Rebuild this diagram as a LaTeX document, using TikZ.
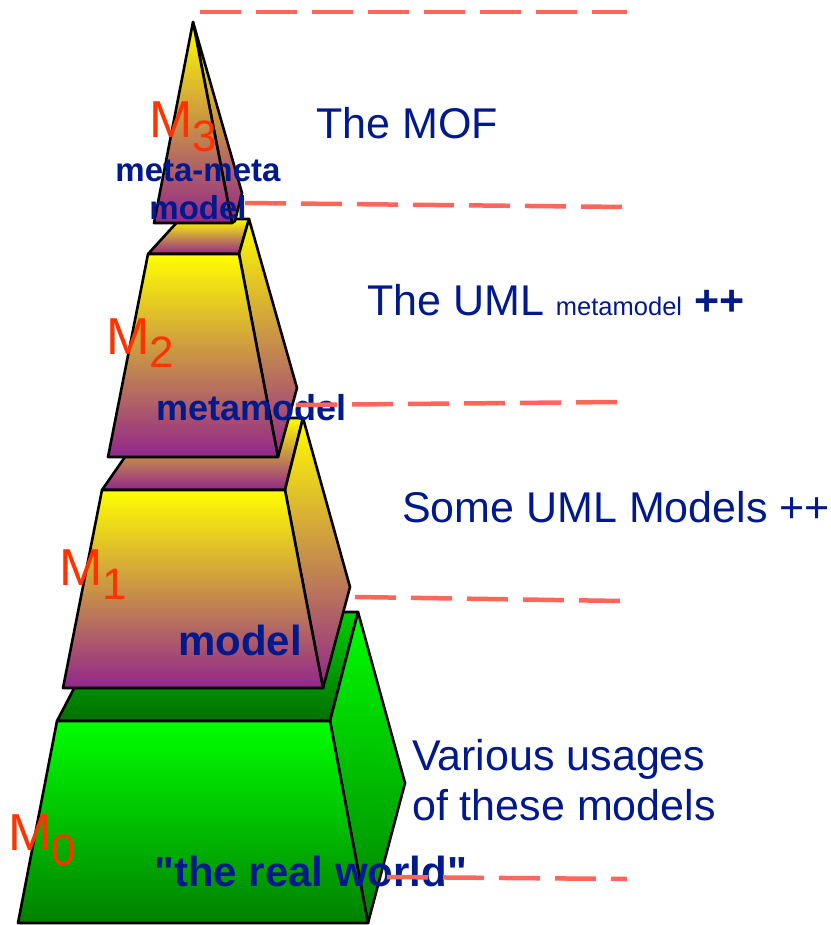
\documentclass[tikz,border=0pt]{standalone}
\usepackage{fontspec}
\setmainfont[Ligatures=TeXOff]{Liberation Sans}
\definecolor{myellow}{RGB}{255,255,0}
\definecolor{mpurple}{RGB}{146,38,140}
\definecolor{mgreen}{RGB}{0,255,0}
\definecolor{mgreenmid}{RGB}{0,228,0}
\definecolor{mdkgreen}{RGB}{0,128,0}
\definecolor{topgreen}{RGB}{0,205,0}
\definecolor{topdkgreen}{RGB}{0,112,0}
\definecolor{dashred}{RGB}{255,102,90}
\definecolor{txtblue}{RGB}{0,25,140}
\definecolor{lvlred}{RGB}{255,51,0}
\newcommand\lvlfont{\fontsize{52}{52}\selectfont}
\newcommand\subfont{\fontsize{44}{44}\selectfont}
\begin{document}
\begin{tikzpicture}[x=1pt,y=-1pt,
  face/.style={draw=black,line width=2.6pt,line join=round},
  warm/.style={face,top color=myellow,bottom color=mpurple},
  grass/.style={face,top color=mgreen,middle color=mgreenmid,bottom color=mdkgreen},
  grasstop/.style={face,top color=topgreen,bottom color=topdkgreen},
  lvl/.style={inner sep=0pt,anchor=base west,text=lvlred,font=\lvlfont},
  tag/.style={inner sep=0pt,anchor=base,text=txtblue},
  note/.style={inner sep=0pt,anchor=base west,text=txtblue,font=\fontsize{43}{50}\selectfont},
  divider/.style={draw=dashred,line width=4.5pt,dash pattern=on 41pt off 15pt}]
\fill[white] (0,0) rectangle (830,925);
\useasboundingbox (0,0) rectangle (830,925);

% M0 block: the real world
\shadedraw[grasstop] (57,721) -- (330,721) -- (358,612) -- (114,612) -- cycle;
\shadedraw[grass] (330,721) -- (358,612) -- (405,783) -- (368,923) -- cycle;
\shadedraw[grass] (57,721) -- (330,721) -- (368,923) -- (18,923) -- cycle;

% M1 block: model
\shadedraw[warm] (102,490) -- (285,490) -- (303,418) -- (152,418) -- cycle;
\shadedraw[warm] (285,490) -- (303,418) -- (350,587) -- (323,688) -- cycle;
\shadedraw[warm] (102,490) -- (285,490) -- (323,688) -- (63,688) -- cycle;

% M2 block: metamodel
\shadedraw[warm] (148,254) -- (239,254) -- (249,219) -- (180,219) -- cycle;
\shadedraw[warm] (239,254) -- (249,219) -- (297,388) -- (278,457) -- cycle;
\shadedraw[warm] (148,254) -- (239,254) -- (278,457) -- (108,457) -- cycle;

% M3 spire: meta-meta model
\shadedraw[warm] (193,22) -- (242,193) -- (235,221) -- (232,223) -- cycle;
\shadedraw[warm] (193,22) -- (232,223) -- (154,223) -- cycle;

% level names
\node[lvl] (m3) at (149,138) {M\raisebox{-14pt}{\subfont 3}};
\node[lvl] (m2) at (106,354) {M\raisebox{-13pt}{\subfont 2}};
\node[lvl] (m1) at (59,585) {M\raisebox{-14pt}{\subfont 1}};
\node[lvl] (m0) at (8,850) {M\raisebox{-15pt}{\subfont 0}};

% level kinds
\node[tag,font=\bfseries\fontsize{33}{33}\selectfont] (mm1) at (198,182) {meta-meta};
\node[tag,font=\bfseries\fontsize{33}{33}\selectfont] (mm2) at (198,220) {model};
\node[tag,anchor=base west,font=\bfseries\fontsize{36}{36}\selectfont] (mmodel) at (156,420) {metamodel};
\node[tag,anchor=base west,font=\bfseries\fontsize{42}{42}\selectfont] (model) at (178,655) {model};
\node[tag,anchor=base west,font=\bfseries\fontsize{42}{42}\selectfont] (world) at (154,886) {"the real world"};

% explanations
\node[note] (mof) at (316,139) {The MOF};
\node[note] (uml) at (367,315) {The UML {\fontsize{25.5}{30}\selectfont metamodel} {\bfseries ++}};
\node[note] (some) at (402,522) {Some UML Models ++};
\node[note] (var1) at (412,770) {Various usages};
\node[note] (var2) at (412,820) {of these models};

% dividing lines between the levels
\coordinate (l1a) at (200,12);  \coordinate (l1b) at (627,12);
\coordinate (l2a) at (245,203); \coordinate (l2b) at (625,207);
\coordinate (l3a) at (296,405); \coordinate (l3b) at (619,402);
\coordinate (l4a) at (355,597); \coordinate (l4b) at (622,601);
\coordinate (l5a) at (387,877); \coordinate (l5b) at (627,879);
\draw[divider] (l1a) -- (l1b);
\draw[divider] (l2a) -- (l2b);
\draw[divider] (l3a) -- (l3b);
\draw[divider] (l4a) -- (l4b);
\draw[divider] (l5a) -- (l5b);
\end{tikzpicture}
\end{document}
